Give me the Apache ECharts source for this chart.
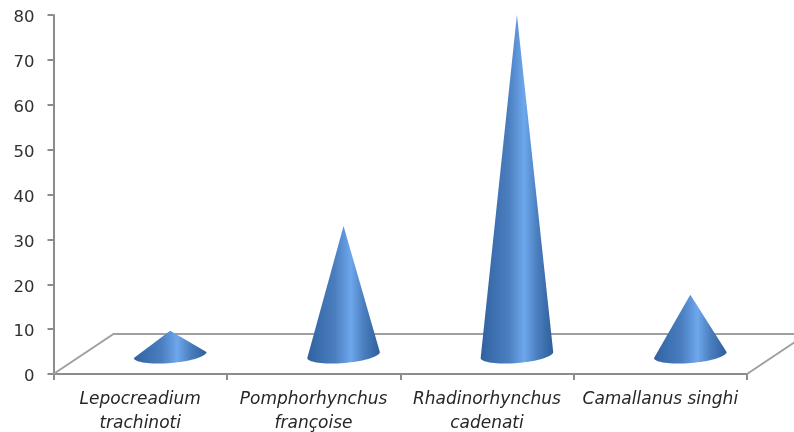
<!DOCTYPE html>
<html><head><meta charset="utf-8">
<script src="https://cdn.jsdelivr.net/npm/echarts@6/dist/echarts.min.js"></script>
<style>html,body{margin:0;background:#fff}#c{width:794px;height:432px}</style></head>
<body><div id="c"></div>
<script>
const categories = ['Lepocreadium\ntrachinoti','Pomphorhynchus\nfrançoise','Rhadinorhynchus\ncadenati','Camallanus singhi'];
const values = [5.2, 28.5, 75.6, 13.2];

const coneFill = new echarts.graphic.LinearGradient(0,0,1,0,[
  {offset:0,color:'#2f609f'},{offset:0.1,color:'#386aa9'},{offset:0.38,color:'#4a7ebf'},
  {offset:0.6,color:'#6ea7ec'},{offset:0.78,color:'#4a7ebe'},{offset:1,color:'#2f5f9c'}]);

function cone(params, api){
  const i = api.value(0), v = api.value(1);
  const band = api.size([1,0])[0];
  const depthX = band*0.173, depthY = -20;
  const tip = api.coord([i, v]); tip[0]+=depthX; tip[1]+=depthY;
  const base = api.coord([i, 0]); const cx = base[0]+depthX, cy = base[1]+depthY+1;
  const rx = band*0.21, ry = 8, rot = -4.8*Math.PI/180;
  const pts = [tip];
  for(let k=0;k<=36;k++){
    const t = Math.PI - Math.PI*k/36;
    const x = rx*Math.cos(t), y = ry*Math.sin(t);
    pts.push([cx + x*Math.cos(rot) - y*Math.sin(rot), cy + x*Math.sin(rot) + y*Math.cos(rot)]);
  }
  return {type:'polygon', shape:{points:pts}, style:{fill:coneFill}};
}
function floor(params, api){
  if(params.dataIndex!==0) return;
  const band = api.size([1,0])[0];
  const o = api.coord([0,0]), e = api.coord([3,0]);
  const x0 = o[0]-band/2, x1 = e[0]+band/2, y = o[1];
  return {type:'polyline', silent:true, shape:{points:[
    [x0,y],[x0+60,y-40],[x1+60,y-40],[x1,y]]}, style:{stroke:'#a0a0a0', lineWidth:2, fill:'none'}};
}
const chart = echarts.init(document.getElementById('c'),null,{renderer:'canvas'});
chart.setOption({
  animation:false, backgroundColor:'#fff',
  grid:{left:53.5,right:47,top:15,bottom:58,outerBoundsMode:'none'},
  xAxis:{type:'category',data:categories,boundaryGap:true,
    axisLine:{lineStyle:{color:'#8c8c8c',width:2}},
    axisTick:{show:true,alignWithLabel:false,length:6,lineStyle:{color:'#8c8c8c',width:2}},
    axisLabel:{interval:0,fontFamily:'DejaVu Sans',fontStyle:'italic',fontSize:17,color:'#262626',lineHeight:24,margin:14}},
  yAxis:{type:'value',min:0,max:80,interval:10,
    axisLine:{show:true,lineStyle:{color:'#8c8c8c',width:2}},
    axisTick:{show:true,length:6,lineStyle:{color:'#8c8c8c',width:2}},
    splitLine:{show:false},
    axisLabel:{fontFamily:'DejaVu Sans',fontSize:16.5,color:'#303030',margin:19,verticalAlign:'top',lineHeight:6}},
  series:[
    {type:'custom',renderItem:floor,clip:false,data:values.map((v,i)=>[i,v]),z:1,silent:true},
    {type:'custom',renderItem:cone,clip:false,data:values.map((v,i)=>[i,v]),z:2}
  ]
});
</script></body></html>
